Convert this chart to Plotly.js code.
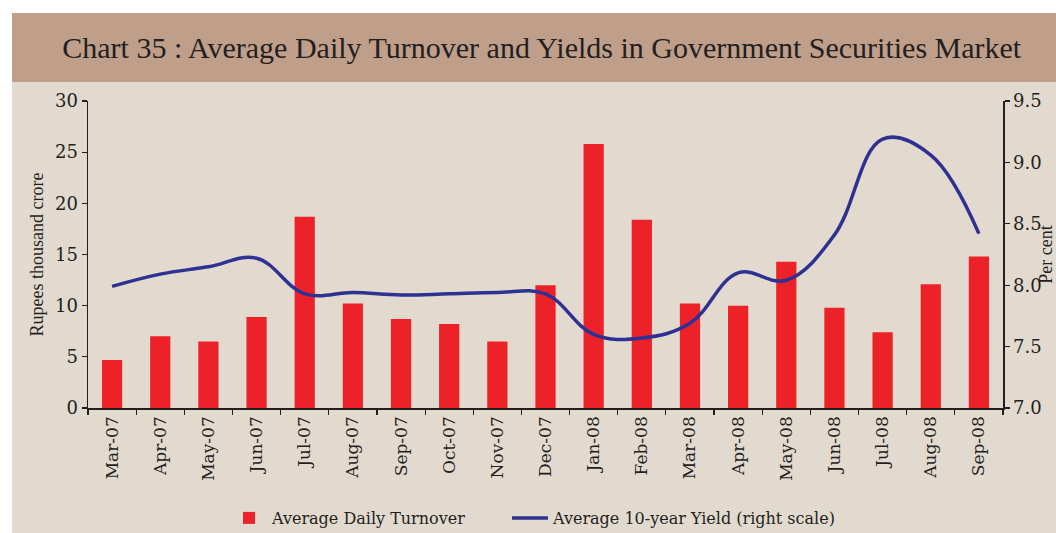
<!DOCTYPE html>
<html>
<head>
<meta charset="utf-8">
<script src="https://cdn.plot.ly/plotly-3.0.1.min.js"></script>
<style>
html,body{margin:0;padding:0;background:#e2d9cf;}
#chart{width:1056px;height:533px;}
</style>
</head>
<body>
<div id="chart"></div>
<script>
// ---- data ----
const months = ["Mar-07","Apr-07","May-07","Jun-07","Jul-07","Aug-07","Sep-07","Oct-07","Nov-07","Dec-07",
                "Jan-08","Feb-08","Mar-08","Apr-08","May-08","Jun-08","Jul-08","Aug-08","Sep-08"];
const turnover = [4.7, 7.0, 6.5, 8.9, 18.7, 10.2, 8.7, 8.2, 6.5, 12.0,
                  25.8, 18.4, 10.2, 10.0, 14.3, 9.8, 7.4, 12.1, 14.8];
const yield10 = [7.99, 8.09, 8.15, 8.22, 7.93, 7.94, 7.92, 7.93, 7.94, 7.93,
                 7.60, 7.57, 7.69, 8.10, 8.04, 8.41, 9.19, 9.06, 8.42];
const seriesNames = ["Average Daily Turnover", "Average 10-year Yield (right scale)"];
const titleText = "Chart 35 : Average Daily Turnover and Yields in Government Securities Market";

const SERIF = "Liberation Serif, DejaVu Serif, serif";
const WIDE = "DejaVu Serif, Liberation Serif, serif";
const INK = "#231f20";
const BG = "#e2d9cf";
const BAND = "#bf9e8a";

// plot area geometry helpers (pixels -> paper)
const L = 88, R = 53, T = 101, B = 125, W = 1056, H = 533;
const PW = W - L - R, PH = H - T - B;
const xp = x => (x - L) / PW;
const yp = y => (H - B - y) / PH;

const traces = [
  {
    type: "bar", x: months, y: turnover, name: seriesNames[0], legend: "legend",
    marker: {color: "#ed2229"}, width: 0.42, yaxis: "y"
  },
  {
    type: "scatter", mode: "lines", x: months, y: yield10, name: seriesNames[1], legend: "legend2",
    line: {color: "#2e3192", width: 3.5, shape: "spline", smoothing: 1.1}, yaxis: "y2"
  }
];

const legendBase = {
  orientation: "h", xref: "container", yref: "container",
  xanchor: "left", y: 1 - 518/533, yanchor: "middle",
  font: {family: WIDE, size: 16, color: INK}, bgcolor: "rgba(0,0,0,0)",
  itemwidth: 36
};

const layout = {
  width: W, height: H,
  margin: {l: L, r: R, t: T, b: B, pad: 0, autoexpand: false},
  paper_bgcolor: BG, plot_bgcolor: BG,
  font: {family: WIDE, color: INK, size: 17},
  title: {
    text: titleText, xref: "container", yref: "container",
    x: 0.513, xanchor: "center", y: 1 - 47/533, yanchor: "middle",
    font: {family: SERIF, size: 30, color: INK}
  },
  showlegend: true,
  legend: Object.assign({}, legendBase, {x: 226/1056}),
  legend2: Object.assign({}, legendBase, {x: 507/1056}),
  xaxis: {
    type: "category", range: [-0.5, 18.5], tickangle: -90,
    ticks: "outside", tickson: "boundaries", ticklen: 5, tickcolor: INK, tickwidth: 1.2,
    showline: true, linecolor: INK, linewidth: 1.5, showgrid: false, zeroline: false,
    tickfont: {family: WIDE, size: 17, color: INK}
  },
  yaxis: {
    range: [0, 30], dtick: 5, ticks: "outside", ticklen: 5, tickcolor: INK, tickwidth: 1.2,
    showline: true, linecolor: INK, linewidth: 1.5, showgrid: false, zeroline: false,
    tickfont: {family: WIDE, size: 18, color: INK},
    title: {text: "Rupees thousand crore", font: {family: SERIF, size: 18, color: INK}, standoff: 6}
  },
  yaxis2: {
    range: [7, 9.5], dtick: 0.5, tickformat: ".1f", overlaying: "y", side: "right",
    ticks: "outside", ticklen: 5, tickcolor: INK, tickwidth: 1.2,
    showline: true, linecolor: INK, linewidth: 1.5, showgrid: false, zeroline: false,
    tickfont: {family: WIDE, size: 18, color: INK},
    title: {text: "Per cent", font: {family: SERIF, size: 18, color: INK}, standoff: 13}
  },
  shapes: [
    {type: "rect", xref: "paper", yref: "paper", layer: "below",
     x0: xp(-5), x1: xp(W + 5), y0: yp(13), y1: yp(-5), fillcolor: "#ffffff", line: {width: 0}},
    {type: "rect", xref: "paper", yref: "paper", layer: "below",
     x0: xp(-5), x1: xp(12), y0: yp(H + 5), y1: yp(-5), fillcolor: "#ffffff", line: {width: 0}},
    {type: "rect", xref: "paper", yref: "paper", layer: "below",
     x0: xp(12), x1: xp(W + 5), y0: yp(82), y1: yp(13), fillcolor: BAND, line: {width: 0}}
  ]
};

Plotly.newPlot("chart", traces, layout, {displayModeBar: false, staticPlot: true});
</script>
</body>
</html>
